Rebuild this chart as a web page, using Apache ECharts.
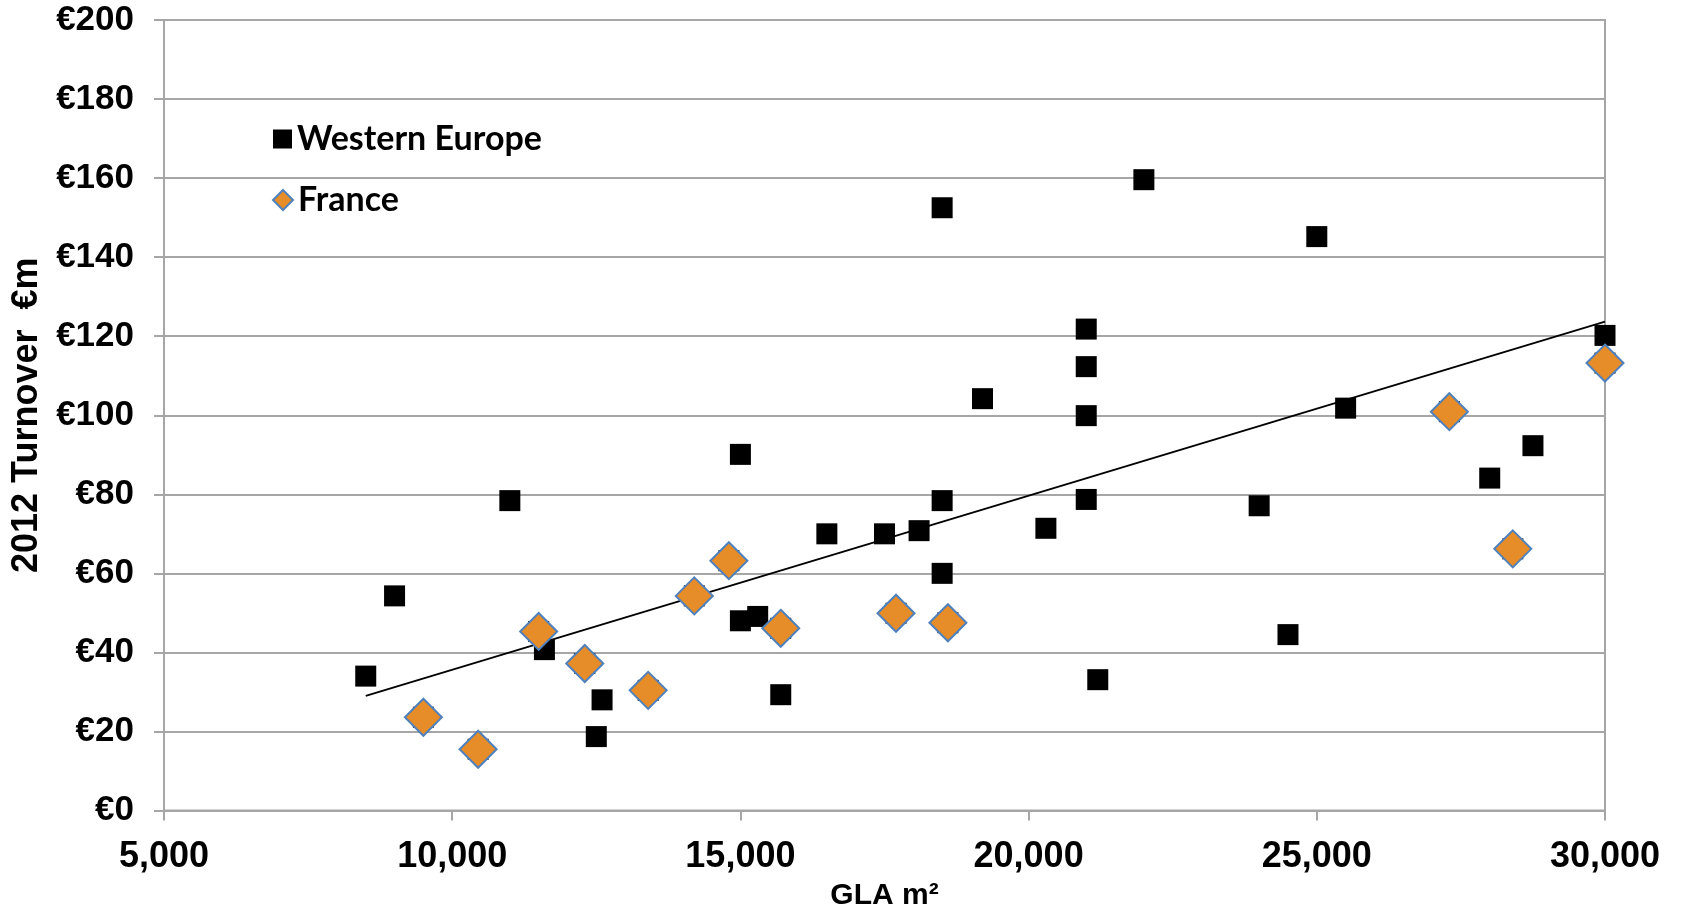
<!DOCTYPE html>
<html><head><meta charset="utf-8">
<script src="https://cdn.jsdelivr.net/npm/echarts@6/dist/echarts.min.js"></script>
<style>html,body{margin:0;padding:0;background:#fff}#c{width:1681px;height:905px}</style>
</head><body><div id="c"></div>
<script>
// Western Europe (GLA m², turnover €m)
const westX = [8500, 9000, 11000, 11600, 12500, 12600, 15000, 15000, 15300, 15700, 16500, 17500, 18100, 18500, 18500, 18500, 19200, 20300, 21000, 21000, 21000, 21000, 21200, 22000, 24000, 24500, 25000, 25500, 28000, 28750, 30000];
const westY = [34, 54.3, 78.4, 40.7, 18.7, 28, 90.1, 48, 49.1, 29.3, 70, 70, 70.8, 152.5, 78.4, 60, 104.2, 71.4, 121.8, 112.3, 99.9, 78.7, 33.1, 159.6, 77.1, 44.5, 145.2, 101.8, 84.1, 92.3, 120.2];
// France
const franceX = [9500, 10450, 11500, 12300, 13400, 14200, 14800, 15700, 17700, 18600, 27300, 28400, 30000];
const franceY = [23.6, 15.5, 45.3, 37.2, 30.4, 54.3, 63.2, 46.1, 49.9, 47.5, 100.9, 66.2, 113.2];
// Trend line endpoints
const trendX = [8500, 30000];
const trendY = [29, 123.7];
const xTicks = [5000, 10000, 15000, 20000, 25000, 30000];
const yTicks = [0, 20, 40, 60, 80, 100, 120, 140, 160, 180, 200];

const pairs = (xs, ys) => xs.map((x, i) => [x, ys[i]]);
// France sites are also part of Western Europe: squares drawn beneath diamonds
const westAll = pairs(westX, westY).concat(pairs(franceX, franceY));

const gray = '#A6A6A6';
const chart = echarts.init(document.getElementById('c'));
chart.setOption({
  animation: false,
  backgroundColor: '#fff',
  grid: { left: 164, right: 76, top: 20, bottom: 94.5, outerBoundsMode: 'none', containLabel: false,
    show: true, borderColor: gray, borderWidth: 2, backgroundColor: 'transparent' },
  legend: [
    { data: [{ name: 'Western Europe', icon: 'rect' }], left: 268, top: 116, itemWidth: 19, itemHeight: 19, itemGap: 10,
      textStyle: { fontFamily: 'Lato', fontWeight: 'bold', fontSize: 34, color: '#000', lineHeight: 36 } },
    { data: [{ name: 'France', icon: 'diamond' }], left: 267, top: 177, itemWidth: 20, itemHeight: 20, itemGap: 10,
      textStyle: { fontFamily: 'Lato', fontWeight: 'bold', fontSize: 34, color: '#000', lineHeight: 36 } }
  ],
  xAxis: {
    type: 'value', min: 5000, max: 30000, interval: 5000,
    name: 'GLA m²', nameLocation: 'middle', nameGap: 62,
    nameTextStyle: { fontFamily: 'Liberation Sans', fontWeight: 'bold', fontSize: 30, color: '#000' },
    axisLine: { show: true, lineStyle: { color: gray, width: 2 } },
    axisTick: { show: true, inside: false, length: 10, lineStyle: { color: gray, width: 2 } },
    splitLine: { show: false },
    axisLabel: { margin: 29, fontFamily: 'Liberation Sans', fontWeight: 'bold', fontSize: 36, color: '#000',
      formatter: v => xTicks.includes(v) ? v.toLocaleString('en-US') : '' }
  },
  yAxis: {
    type: 'value', min: 0, max: 200, interval: 20,
    name: '2012 Turnover  €m', nameLocation: 'middle', nameGap: 115, nameRotate: 90,
    nameTextStyle: { fontFamily: 'Liberation Sans', fontWeight: 'bold', fontSize: 36, color: '#000' },
    axisLine: { show: true, lineStyle: { color: gray, width: 2 } },
    axisTick: { show: true, inside: false, length: 10, lineStyle: { color: gray, width: 2 } },
    splitLine: { show: true, lineStyle: { color: gray, width: 2 } },
    axisLabel: { margin: 30, fontFamily: 'Liberation Sans', fontWeight: 'bold', fontSize: 35, color: '#000',
      formatter: v => yTicks.includes(v) ? '€' + v : '' }
  },
  series: [
    { name: 'Western Europe', type: 'scatter', symbol: 'rect', symbolSize: 21, z: 2,
      itemStyle: { color: '#000', opacity: 1 }, data: westAll },
    { name: 'Trend', type: 'line', symbol: 'none', z: 3, silent: true,
      lineStyle: { color: '#000', width: 1.8 }, data: pairs(trendX, trendY) },
    { name: 'France', type: 'scatter', symbol: 'diamond', symbolSize: [37, 37], z: 4,
      itemStyle: { color: '#E68C28', borderColor: '#4F81BD', borderWidth: 2, opacity: 1 }, data: pairs(franceX, franceY) }
  ]
});
</script></body></html>
